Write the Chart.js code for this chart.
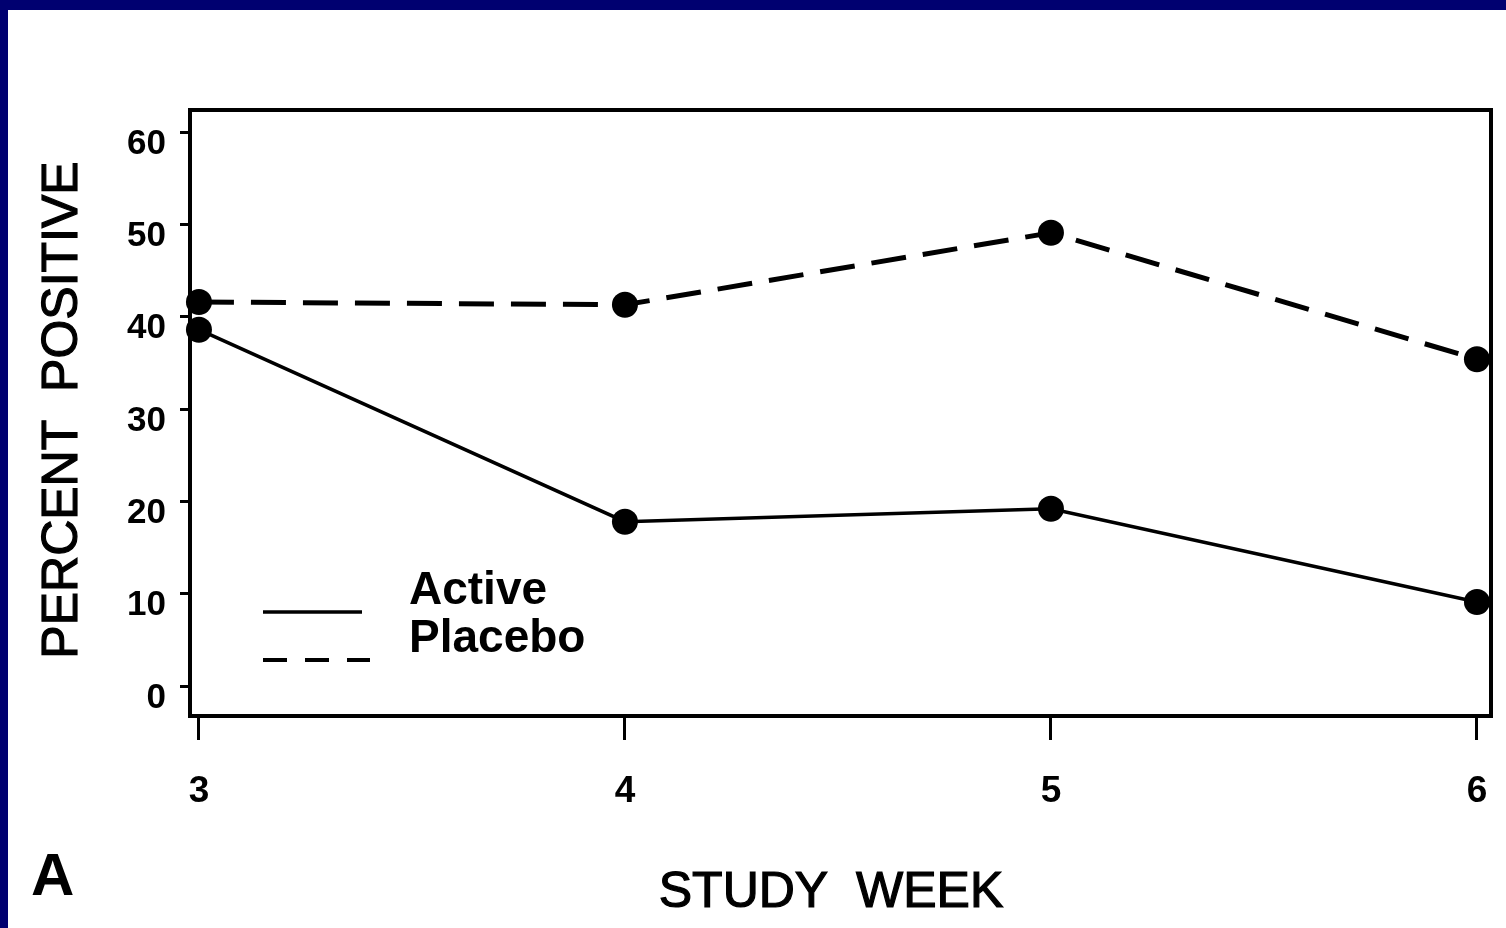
<!DOCTYPE html>
<html lang="en">
<head>
<meta charset="UTF-8">
<title>Percent positive by study week</title>
<script src="https://cdn.jsdelivr.net/npm/chart.js@4.4.1/dist/chart.umd.min.js"></script>
<style>
  html, body { margin: 0; padding: 0; background: #000070; overflow: hidden; }
  #wrap { position: absolute; left: 0; top: 0; width: 1506px; height: 928px; }
</style>
</head>
<body>
<div id="wrap"><canvas id="chart" width="1506" height="928"></canvas></div>
<script>
// values
const weeks = [3, 4, 5, 6];
const activeValues = [38.6, 17.8, 19.2, 9.1];
const placeboValues = [41.6, 41.3, 49.1, 35.4];
const yTicks = [0, 10, 20, 30, 40, 50, 60];
const seriesLabels = ['Active', 'Placebo'];
const xTitle = 'STUDY  WEEK';
const yTitle = 'PERCENT  POSITIVE';
const panelLabel = 'A';

const FONT = '"Liberation Sans", Arial, Helvetica, sans-serif';

// white sheet, plot frame, titles and the hand-placed key
const decor = {
    id: 'decor',
    beforeDraw(chart) {
        const ctx = chart.ctx;
        ctx.save();
        ctx.fillStyle = '#ffffff';
        ctx.fillRect(8, 10, chart.width - 8, chart.height - 10);
        ctx.restore();
    },
    afterDraw(chart) {
        const ctx = chart.ctx;
        const a = chart.chartArea;
        ctx.save();
        ctx.strokeStyle = '#000';
        ctx.fillStyle = '#000';
        ctx.lineWidth = 4;
        ctx.strokeRect(a.left, a.top, a.right - a.left, a.bottom - a.top);

        // axis titles
        ctx.textAlign = 'center';
        ctx.textBaseline = 'middle';
        ctx.font = '50px ' + FONT;
        ctx.lineWidth = 1.2;
        ctx.fillText(xTitle, 831, 893);
        ctx.strokeText(xTitle, 831, 893);
        ctx.save();
        ctx.translate(63, 410);
        ctx.rotate(-Math.PI / 2);
        ctx.fillText(yTitle, 0, 0);
        ctx.strokeText(yTitle, 0, 0);
        ctx.restore();

        // panel letter
        ctx.font = 'bold 60px ' + FONT;
        ctx.textAlign = 'left';
        ctx.textBaseline = 'alphabetic';
        ctx.fillText(panelLabel, 31, 895);

        // key
        ctx.lineWidth = 3.5;
        ctx.beginPath();
        ctx.moveTo(263, 612);
        ctx.lineTo(362, 612);
        ctx.stroke();
        ctx.lineWidth = 4;
        ctx.setLineDash([24, 18]);
        ctx.beginPath();
        ctx.moveTo(263, 660);
        ctx.lineTo(370, 660);
        ctx.stroke();
        ctx.setLineDash([]);
        ctx.font = 'bold 46px ' + FONT;
        ctx.fillText(seriesLabels[0], 409, 604);
        ctx.fillText(seriesLabels[1], 409, 652);
        ctx.restore();
    }
};

const toPoints = vals => weeks.map((w, i) => ({ x: w, y: vals[i] }));

new Chart(document.getElementById('chart'), {
    type: 'line',
    data: {
        datasets: [
            {
                label: seriesLabels[0],
                data: toPoints(activeValues),
                borderColor: '#000',
                backgroundColor: '#000',
                borderWidth: 3.5,
                pointRadius: 13,
                pointBorderWidth: 0,
                tension: 0
            },
            {
                label: seriesLabels[1],
                data: toPoints(placeboValues),
                borderColor: '#000',
                backgroundColor: '#000',
                borderWidth: 5,
                borderDash: [35, 17],
                pointRadius: 13,
                pointBorderWidth: 0,
                tension: 0
            }
        ]
    },
    options: {
        responsive: false,
        animation: false,
        clip: false,
        layout: { padding: { top: 110, right: 15, left: 0, bottom: 0 } },
        plugins: {
            legend: { display: false },
            tooltip: { enabled: false }
        },
        scales: {
            x: {
                type: 'linear',
                min: 2.979,
                max: 6.033,
                afterBuildTicks: s => { s.ticks = weeks.map(v => ({ value: v })); },
                afterFit: s => { s.height = 212; s.paddingLeft = 0; s.paddingRight = 0; },
                grid: { drawOnChartArea: false, drawTicks: true, tickLength: 24, color: '#000', lineWidth: 3 },
                border: { display: false },
                ticks: {
                    color: '#000',
                    font: { family: FONT, size: 37, weight: 'bold' },
                    padding: 30,
                    maxRotation: 0
                }
            },
            y: {
                type: 'linear',
                min: -3.25,
                max: 62.4,
                afterBuildTicks: s => { s.ticks = yTicks.map(v => ({ value: v })); },
                afterFit: s => { s.width = 190; s.paddingTop = 0; s.paddingBottom = 0; },
                grid: { drawOnChartArea: false, drawTicks: true, tickLength: 10, color: '#000', lineWidth: 3 },
                border: { display: false },
                ticks: {
                    color: '#000',
                    font: { family: FONT, size: 35, weight: 'bold' },
                    padding: 14,
                    labelOffset: 12
                }
            }
        }
    },
    plugins: [decor]
});
</script>
</body>
</html>
